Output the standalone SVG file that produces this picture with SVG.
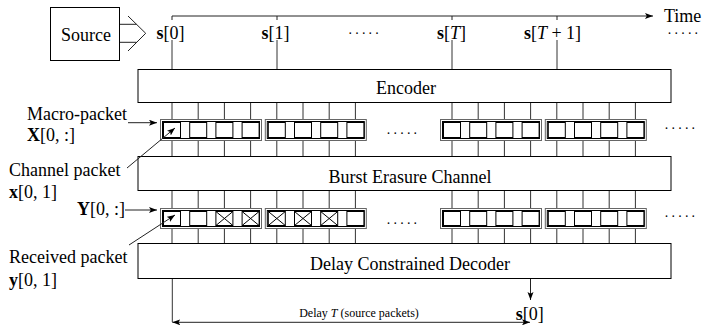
<svg xmlns="http://www.w3.org/2000/svg" width="709" height="325" viewBox="0 0 709 325" font-family="'Liberation Serif','Times New Roman',serif">
<style>
text{font-family:"Liberation Serif","Times New Roman",serif;font-size:18px;fill:#000}
.sm{font-size:12px}
.b{font-weight:bold}
.i{font-style:italic}
.dots{font-size:10px;font-weight:bold;letter-spacing:4.2px}
.box{fill:#fff;stroke:#000;stroke-width:1}
.ln{fill:none;stroke:#222;stroke-width:1}
.vl{fill:none;stroke:#333;stroke-width:1}
.outer{fill:#fff;stroke:#666;stroke-width:1}
.inner{fill:none;stroke:#000;stroke-width:1}
.sq{fill:#fff;stroke:#000;stroke-width:1}
.x{stroke:#000;stroke-width:1}
</style>
<defs>
<marker id="ah" markerUnits="userSpaceOnUse" markerWidth="9" markerHeight="7" refX="8" refY="3" orient="auto-start-reverse">
<path d="M0,0 L8,3 L0,6 L1.8,3 Z" fill="#000"/>
</marker>
<symbol id="sqr" overflow="visible"><rect class="sq" x="-8.5" y="0" width="17" height="15"/></symbol>
</defs>

<g id="connectors">
<path class="ln" d="M119.5,24.3 H136.5 M119.5,42.3 H136.5 M128,16 L145.7,33.3 L128,51"/>
<path class="ln" d="M172,20 V16 H653" marker-end="url(#ah)"/>
<path class="ln" d="M277,16 V20 M452,16 V20 M557,16 V20"/>
<path class="vl" d="M172,40 V69.5 M277,40 V69.5 M452,40 V69.5 M557,40 V69.5"/>
<path class="vl" d="M172,102.5V156.5M198.2,102.5V156.5M224.4,102.5V156.5M250.6,102.5V156.5M276.8,102.5V156.5M303,102.5V156.5M329.2,102.5V156.5M355.4,102.5V156.5M452,102.5V156.5M478.2,102.5V156.5M504.4,102.5V156.5M530.6,102.5V156.5M556.8,102.5V156.5M583,102.5V156.5M609.2,102.5V156.5M635.4,102.5V156.5"/>
<path class="vl" d="M172,190.5V243.5M198.2,190.5V243.5M224.4,190.5V243.5M250.6,190.5V243.5M276.8,190.5V243.5M303,190.5V243.5M329.2,190.5V243.5M355.4,190.5V243.5M452,190.5V243.5M478.2,190.5V243.5M504.4,190.5V243.5M530.6,190.5V243.5M556.8,190.5V243.5M583,190.5V243.5M609.2,190.5V243.5M635.4,190.5V243.5"/>
<path class="ln" d="M128,122.7 H157" marker-end="url(#ah)"/>
<path class="ln" d="M125,210 H157" marker-end="url(#ah)"/>
<path class="ln" d="M530.5,278.5 V300" marker-end="url(#ah)"/>
<path class="vl" d="M172.3,279 V322"/>
<path class="ln" d="M172.3,322.3 H530" marker-start="url(#ah)" marker-end="url(#ah)"/>
</g>

<g id="source">
<rect class="box" x="50.5" y="7.5" width="69" height="53"/>
<text x="86" y="40.5" text-anchor="middle">Source</text>
</g>

<g id="source-labels">
<text x="170.5" y="38.5" text-anchor="middle"><tspan class="b">s</tspan>[0]</text>
<text x="275.5" y="38.5" text-anchor="middle"><tspan class="b">s</tspan>[1]</text>
<text x="349" y="34.3" class="dots">.....</text>
<text x="451.5" y="38.5" text-anchor="middle"><tspan class="b">s</tspan>[<tspan class="i">T</tspan>]</text>
<text x="552.5" y="38.5" text-anchor="middle"><tspan class="b">s</tspan>[<tspan class="i">T</tspan> + 1]</text>
<text x="668.3" y="34.3" class="dots">.....</text>
<text x="664" y="21.5">Time</text>
</g>

<g id="encoder">
<rect class="box" x="138" y="69.5" width="533" height="33"/>
<text x="406" y="94" text-anchor="middle">Encoder</text>
</g>

<g id="channel">
<rect class="box" x="138" y="156.5" width="533" height="34"/>
<text x="410" y="183" text-anchor="middle">Burst Erasure Channel</text>
</g>

<g id="decoder">
<rect class="box" x="138" y="243.5" width="533" height="35"/>
<text x="410" y="269.5" text-anchor="middle">Delay Constrained Decoder</text>
</g>

<g id="macro-row-X">
<rect class="outer" x="160.5" y="119.5" width="101" height="21"/>
<rect class="inner" x="162.5" y="121.5" width="97" height="17"/>
<rect class="outer" x="265.3" y="119.5" width="101" height="21"/>
<rect class="inner" x="267.3" y="121.5" width="97" height="17"/>
<rect class="outer" x="440.5" y="119.5" width="101" height="21"/>
<rect class="inner" x="442.5" y="121.5" width="97" height="17"/>
<rect class="outer" x="545.3" y="119.5" width="101" height="21"/>
<rect class="inner" x="547.3" y="121.5" width="97" height="17"/>
<use href="#sqr" x="172" y="122.5"/><use href="#sqr" x="198.2" y="122.5"/><use href="#sqr" x="224.4" y="122.5"/><use href="#sqr" x="250.6" y="122.5"/>
<use href="#sqr" x="276.8" y="122.5"/><use href="#sqr" x="303" y="122.5"/><use href="#sqr" x="329.2" y="122.5"/><use href="#sqr" x="355.4" y="122.5"/>
<use href="#sqr" x="452" y="122.5"/><use href="#sqr" x="478.2" y="122.5"/><use href="#sqr" x="504.4" y="122.5"/><use href="#sqr" x="530.6" y="122.5"/>
<use href="#sqr" x="556.8" y="122.5"/><use href="#sqr" x="583" y="122.5"/><use href="#sqr" x="609.2" y="122.5"/><use href="#sqr" x="635.4" y="122.5"/>
<text x="387.3" y="134.3" class="dots">.....</text>
<text x="665.3" y="129.3" class="dots">.....</text>
</g>

<g id="macro-row-Y">
<rect class="outer" x="160.5" y="208.5" width="101" height="20"/>
<rect class="inner" x="162.5" y="210.5" width="97" height="16"/>
<rect class="outer" x="265.3" y="208.5" width="101" height="20"/>
<rect class="inner" x="267.3" y="210.5" width="97" height="16"/>
<rect class="outer" x="440.5" y="208.5" width="101" height="20"/>
<rect class="inner" x="442.5" y="210.5" width="97" height="16"/>
<rect class="outer" x="545.3" y="208.5" width="101" height="20"/>
<rect class="inner" x="547.3" y="210.5" width="97" height="16"/>
<g>
<rect class="sq" x="163.5" y="211.5" width="17" height="14"/>
<rect class="sq" x="189.7" y="211.5" width="17" height="14"/>
<rect class="sq" x="215.9" y="211.5" width="17" height="14"/>
<rect class="sq" x="242.1" y="211.5" width="17" height="14"/>
<rect class="sq" x="268.3" y="211.5" width="17" height="14"/>
<rect class="sq" x="294.5" y="211.5" width="17" height="14"/>
<rect class="sq" x="320.7" y="211.5" width="17" height="14"/>
<rect class="sq" x="346.9" y="211.5" width="17" height="14"/>
<rect class="sq" x="443.5" y="211.5" width="17" height="14"/>
<rect class="sq" x="469.7" y="211.5" width="17" height="14"/>
<rect class="sq" x="495.9" y="211.5" width="17" height="14"/>
<rect class="sq" x="522.1" y="211.5" width="17" height="14"/>
<rect class="sq" x="548.3" y="211.5" width="17" height="14"/>
<rect class="sq" x="574.5" y="211.5" width="17" height="14"/>
<rect class="sq" x="600.7" y="211.5" width="17" height="14"/>
<rect class="sq" x="626.9" y="211.5" width="17" height="14"/>
</g>
<path class="x" d="M215.9,211.5 l17,14 m0,-14 l-17,14 M242.1,211.5 l17,14 m0,-14 l-17,14 M268.3,211.5 l17,14 m0,-14 l-17,14 M294.5,211.5 l17,14 m0,-14 l-17,14 M320.7,211.5 l17,14 m0,-14 l-17,14"/>
<text x="387.3" y="224.3" class="dots">.....</text>
<text x="665.3" y="217.3" class="dots">.....</text>
</g>

<g id="labels">
<text x="27" y="120">Macro-packet</text>
<text x="27" y="141"><tspan class="b">X</tspan>[0, :]</text>
<text x="9" y="175.5">Channel packet</text>
<text x="9" y="198"><tspan class="b">x</tspan>[0, 1]</text>
<text x="77" y="215"><tspan class="b">Y</tspan>[0, :]</text>
<text x="9" y="262.5">Received packet</text>
<text x="9" y="286"><tspan class="b">y</tspan>[0, 1]</text>
<text x="529.7" y="319.5" text-anchor="middle"><tspan class="b">s</tspan>[0]</text>
<text x="359" y="317" class="sm" text-anchor="middle">Delay <tspan class="i">T</tspan> (source packets)</text>
</g>

<g id="pointer-arrows">
<path class="ln" d="M127,168 L175,128" marker-end="url(#ah)"/>
<path class="ln" d="M129,245 L175,215" marker-end="url(#ah)"/>
</g>
</svg>
